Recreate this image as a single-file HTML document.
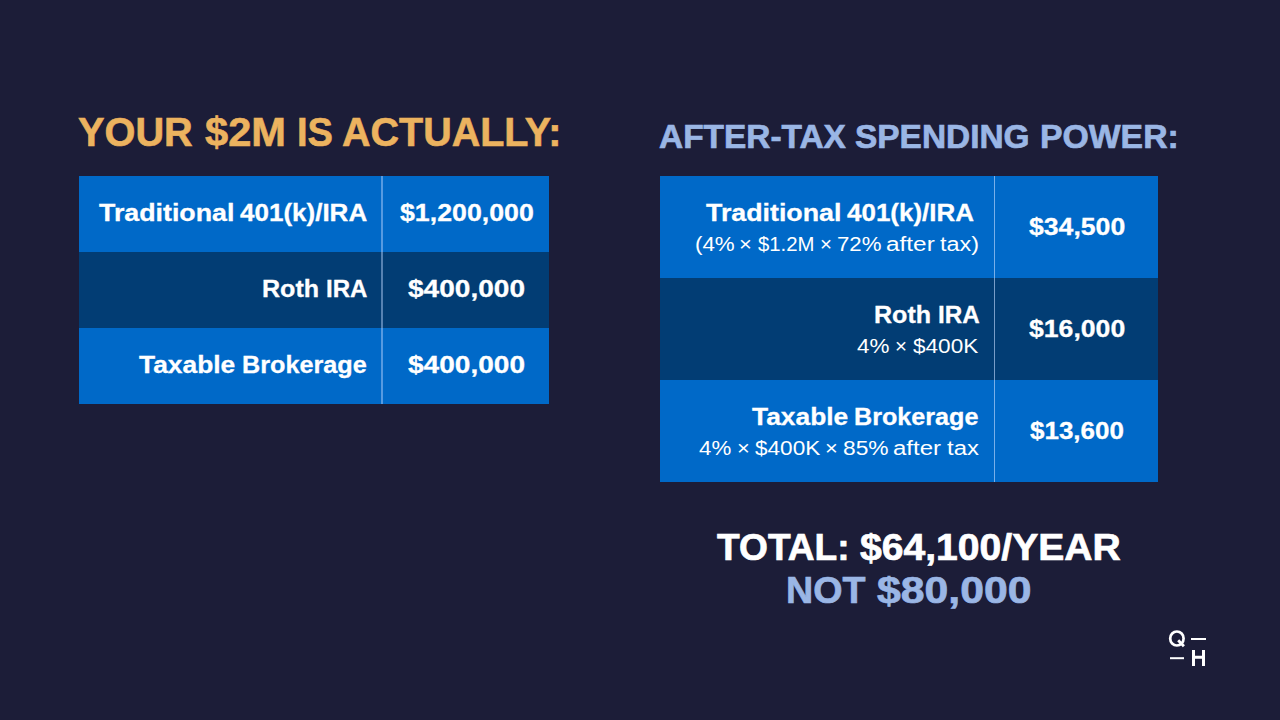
<!DOCTYPE html>
<html>
<head>
<meta charset="utf-8">
<style>
html,body{margin:0;padding:0;}
body{width:1280px;height:720px;background:#1c1d38;position:relative;overflow:hidden;font-family:"Liberation Sans",sans-serif;color:#fff;}
.a{position:absolute;white-space:nowrap;line-height:1;transform-origin:0 0;}
.r{position:absolute;}
.blue{background:#0069c8;}
.dark{background:#023d74;}
</style>
</head>
<body>
<div class="r blue" style="left:79px;top:176px;width:470px;height:76px;"></div>
<div class="r dark" style="left:79px;top:252px;width:470px;height:76px;"></div>
<div class="r blue" style="left:79px;top:328px;width:470px;height:76px;"></div>
<div class="r" style="left:381px;top:176px;width:2px;height:228px;background:rgba(190,215,255,0.45);"></div>
<div class="r blue" style="left:660px;top:176px;width:498px;height:102px;"></div>
<div class="r dark" style="left:660px;top:278px;width:498px;height:102px;"></div>
<div class="r blue" style="left:660px;top:380px;width:498px;height:102px;"></div>
<div class="r" style="left:994px;top:176px;width:1px;height:306px;background:rgba(200,222,255,0.6);"></div>
<div class="a" style="left:78.02px;top:112px;font-size:40.5px;font-weight:bold;color:#ecb35f;-webkit-text-stroke:0.6px #ecb35f;transform:scaleX(0.9809);">YOUR</div>
<div class="a" style="left:204.90px;top:112px;font-size:40.5px;font-weight:bold;color:#ecb35f;-webkit-text-stroke:0.6px #ecb35f;transform:scaleX(1.0273);">$2M</div>
<div class="a" style="left:297.12px;top:112px;font-size:40.5px;font-weight:bold;color:#ecb35f;-webkit-text-stroke:0.6px #ecb35f;transform:scaleX(0.9400);">IS</div>
<div class="a" style="left:342.32px;top:112px;font-size:40.5px;font-weight:bold;color:#ecb35f;-webkit-text-stroke:0.6px #ecb35f;transform:scaleX(0.9751);">ACTUALLY:</div>
<div class="a" style="left:659.30px;top:120px;font-size:33.5px;font-weight:bold;color:#9ab6e5;-webkit-text-stroke:0.7px #9ab6e5;transform:scaleX(0.9978);">AFTER-TAX</div>
<div class="a" style="left:855.40px;top:120px;font-size:33.5px;font-weight:bold;color:#9ab6e5;-webkit-text-stroke:0.7px #9ab6e5;transform:scaleX(0.9977);">SPENDING</div>
<div class="a" style="left:1039.78px;top:120px;font-size:33.5px;font-weight:bold;color:#9ab6e5;-webkit-text-stroke:0.7px #9ab6e5;transform:scaleX(1.0075);">POWER:</div>
<div class="a" style="left:99.40px;top:201px;font-size:24.3px;font-weight:bold;-webkit-text-stroke:0.3px #ffffff;transform:scaleX(1.1025);">Traditional</div>
<div class="a" style="left:240.00px;top:201px;font-size:24.3px;font-weight:bold;-webkit-text-stroke:0.3px #ffffff;transform:scaleX(1.0703);">401(k)/IRA</div>
<div class="a" style="left:261.97px;top:277px;font-size:24.3px;font-weight:bold;-webkit-text-stroke:0.3px #ffffff;transform:scaleX(1.0321);">Roth</div>
<div class="a" style="left:325.71px;top:277px;font-size:24.3px;font-weight:bold;-webkit-text-stroke:0.3px #ffffff;transform:scaleX(0.9900);">IRA</div>
<div class="a" style="left:139.30px;top:353px;font-size:24.3px;font-weight:bold;-webkit-text-stroke:0.3px #ffffff;transform:scaleX(1.0852);">Taxable</div>
<div class="a" style="left:241.76px;top:353px;font-size:24.3px;font-weight:bold;-webkit-text-stroke:0.3px #ffffff;transform:scaleX(1.0378);">Brokerage</div>
<div class="a" style="left:399.75px;top:201px;font-size:24.3px;font-weight:bold;-webkit-text-stroke:0.3px #ffffff;transform:scaleX(1.1004);">$1,200,000</div>
<div class="a" style="left:407.90px;top:277px;font-size:24.3px;font-weight:bold;-webkit-text-stroke:0.3px #ffffff;transform:scaleX(1.1545);">$400,000</div>
<div class="a" style="left:407.90px;top:353px;font-size:24.3px;font-weight:bold;-webkit-text-stroke:0.3px #ffffff;transform:scaleX(1.1545);">$400,000</div>
<div class="a" style="left:706.00px;top:201px;font-size:24.3px;font-weight:bold;-webkit-text-stroke:0.3px #ffffff;transform:scaleX(1.1025);">Traditional</div>
<div class="a" style="left:846.60px;top:201px;font-size:24.3px;font-weight:bold;-webkit-text-stroke:0.3px #ffffff;transform:scaleX(1.0686);">401(k)/IRA</div>
<div class="a" style="left:694.78px;top:234px;font-size:20px;transform:scaleX(1.1176);">(4%</div>
<div class="a" style="left:739.40px;top:234px;font-size:20px;transform:scaleX(1.1000);">×</div>
<div class="a" style="left:758.08px;top:234px;font-size:20px;transform:scaleX(1.0170);">$1.2M</div>
<div class="a" style="left:819.75px;top:234px;font-size:20px;transform:scaleX(1.0250);">×</div>
<div class="a" style="left:837.09px;top:234px;font-size:20px;transform:scaleX(1.1105);">72%</div>
<div class="a" style="left:885.58px;top:234px;font-size:20px;transform:scaleX(1.2179);">after</div>
<div class="a" style="left:940.20px;top:234px;font-size:20px;transform:scaleX(1.1687);">tax)</div>
<div class="a" style="left:873.87px;top:303px;font-size:24.3px;font-weight:bold;-webkit-text-stroke:0.3px #ffffff;transform:scaleX(1.0321);">Roth</div>
<div class="a" style="left:937.60px;top:303px;font-size:24.3px;font-weight:bold;-webkit-text-stroke:0.3px #ffffff;transform:scaleX(0.9975);">IRA</div>
<div class="a" style="left:857.40px;top:336px;font-size:20px;transform:scaleX(1.1214);">4%</div>
<div class="a" style="left:894.95px;top:336px;font-size:20px;transform:scaleX(1.0250);">×</div>
<div class="a" style="left:913.37px;top:336px;font-size:20px;transform:scaleX(1.1286);">$400K</div>
<div class="a" style="left:751.50px;top:405px;font-size:24.3px;font-weight:bold;-webkit-text-stroke:0.3px #ffffff;transform:scaleX(1.0852);">Taxable</div>
<div class="a" style="left:853.96px;top:405px;font-size:24.3px;font-weight:bold;-webkit-text-stroke:0.3px #ffffff;transform:scaleX(1.0353);">Brokerage</div>
<div class="a" style="left:699.40px;top:438px;font-size:20px;transform:scaleX(1.1143);">4%</div>
<div class="a" style="left:736.56px;top:438px;font-size:20px;transform:scaleX(1.0938);">×</div>
<div class="a" style="left:755.12px;top:438px;font-size:20px;transform:scaleX(1.1277);">$400K</div>
<div class="a" style="left:825.31px;top:438px;font-size:20px;transform:scaleX(1.0938);">×</div>
<div class="a" style="left:842.96px;top:438px;font-size:20px;transform:scaleX(1.1395);">85%</div>
<div class="a" style="left:892.70px;top:438px;font-size:20px;transform:scaleX(1.2000);">after</div>
<div class="a" style="left:947.20px;top:438px;font-size:20px;transform:scaleX(1.1923);">tax</div>
<div class="a" style="left:1028.90px;top:215px;font-size:24.3px;font-weight:bold;-webkit-text-stroke:0.3px #ffffff;transform:scaleX(1.0954);">$34,500</div>
<div class="a" style="left:1028.90px;top:317px;font-size:24.3px;font-weight:bold;-webkit-text-stroke:0.3px #ffffff;transform:scaleX(1.0954);">$16,000</div>
<div class="a" style="left:1030.10px;top:419px;font-size:24.3px;font-weight:bold;-webkit-text-stroke:0.3px #ffffff;transform:scaleX(1.0690);">$13,600</div>
<div class="a" style="left:717.20px;top:529px;font-size:37.35px;font-weight:bold;-webkit-text-stroke:0.7px #ffffff;transform:scaleX(0.9946);">TOTAL:</div>
<div class="a" style="left:860.10px;top:529px;font-size:37.35px;font-weight:bold;-webkit-text-stroke:0.7px #ffffff;transform:scaleX(1.0474);">$64,100/YEAR</div>
<div class="a" style="left:785.78px;top:572px;font-size:37.35px;font-weight:bold;color:#9ab6e5;-webkit-text-stroke:0.7px #9ab6e5;transform:scaleX(1.0078);">NOT</div>
<div class="a" style="left:877.20px;top:572px;font-size:37.35px;font-weight:bold;color:#9ab6e5;-webkit-text-stroke:0.7px #9ab6e5;transform:scaleX(1.1448);">$80,000</div>
<svg class="r" style="left:1160px;top:625px;" width="55" height="45" viewBox="1160 625 55 45">
<ellipse cx="1176.9" cy="638.5" rx="6.7" ry="7.0" fill="none" stroke="#fff" stroke-width="2.7"/>
<path d="M1178.2 640.3 L1183.9 646.2" stroke="#fff" stroke-width="2.9" fill="none"/>
<rect x="1191" y="638" width="15" height="2" fill="#fff"/>
<rect x="1170" y="657.2" width="14" height="2" fill="#fff"/>
<path d="M1193.5 650 V666 M1203.5 650 V666 M1193.5 657.2 H1203.5" stroke="#fff" stroke-width="3" fill="none"/>
</svg>
</body>
</html>
